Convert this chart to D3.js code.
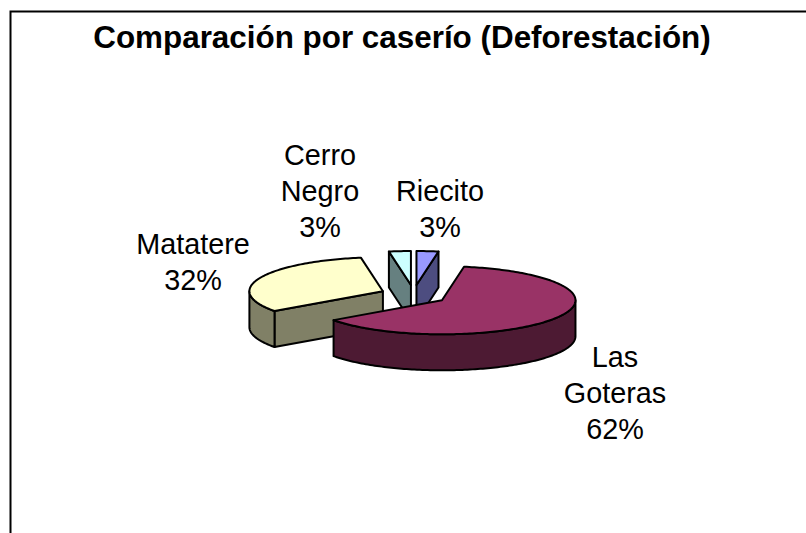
<!DOCTYPE html>
<html><head><meta charset="utf-8">
<script src="https://cdn.jsdelivr.net/npm/d3@7"></script>
<style>html,body{margin:0;padding:0;background:#fff}svg{display:block}text{font-family:"Liberation Sans",Arial,sans-serif;fill:#000}</style>
</head><body><svg id="c" width="806" height="533"></svg>
<script>
const titleText = "Comparación por caserío (Deforestación)";
const categories = ["Riecito", "Las Goteras", "Matatere", "Cerro Negro"];
const values = [2.64, 62.44, 32.28, 2.64];
const topColors = ["#9999ff", "#993366", "#ffffcc", "#ccffff"];
const wallColors = ["#4d4d80", "#4d1a33", "#808066", "#668080"];
const labelLines = [["Riecito"], ["Las", "Goteras"], ["Matatere"], ["Cerro", "Negro"]];
const labelPos = [[440, 201], [615, 367], [193, 254], [320, 165]];
const drawOrder = [3, 0, 2, 1];

const W = 806, H = 533, cx = 413.7, cy = 295, rx = 133.5, ry = 34, depth = 36, exX = 33.3, exY = 10;
const svg = d3.select("#c");
svg.append("path").attr("d", "M10.5,540V11.5H806").attr("fill", "none").attr("stroke", "#000").attr("stroke-width", 2);
svg.append("text").attr("x", 402).attr("y", 48).attr("text-anchor", "middle")
  .attr("font-size", 31.4).attr("font-weight", "bold").text(titleText);

const arcs = d3.pie().sort(null).value(d => d)(values);
const sx = d3.scaleLinear().domain([-1, 1]).range([-rx, rx]);
const sy = d3.scaleLinear().domain([-1, 1]).range([-ry, ry]);
const line = d3.line().curve(d3.curveLinear);
const pt = (o, a, dz = 0) => [o[0] + sx(Math.sin(a)), o[1] + sy(-Math.cos(a)) + dz];
const arcPts = (o, a, b, dz = 0) => {
  const n = Math.max(2, Math.ceil((b - a) / 0.02));
  return d3.range(n + 1).map(i => pt(o, a + (b - a) * i / n, dz));
};
drawOrder.forEach(i => {
  const d = arcs[i], a = d.startAngle, b = d.endAngle, m = (a + b) / 2;
  const o = [cx + exX * Math.sin(m), cy - exY * Math.cos(m)];
  const g = svg.append("g").attr("stroke", "#000").attr("stroke-width", 2).attr("stroke-linejoin", "round");
  const wall = p => g.append("path").attr("d", line(p) + "Z").attr("fill", wallColors[i]);
  if (Math.sin(a) < -1e-6) wall([o, pt(o, a), pt(o, a, depth), [o[0], o[1] + depth]]);
  if (Math.sin(b) > 1e-6) wall([o, pt(o, b), pt(o, b, depth), [o[0], o[1] + depth]]);
  const w0 = Math.max(a, Math.PI / 2), w1 = Math.min(b, 3 * Math.PI / 2);
  if (w1 > w0) wall([...arcPts(o, w0, w1), ...arcPts(o, w0, w1, depth).reverse()]);
  g.append("path").attr("d", line([o, ...arcPts(o, a, b)]) + "Z").attr("fill", topColors[i]);
});
labelLines.forEach((ls, i) => {
  const t = svg.append("text").attr("text-anchor", "middle").attr("font-size", 28.8);
  [...ls, d3.format(".0f")(values[i]) + "%"].forEach((s, k) => {
    t.append("tspan").attr("x", labelPos[i][0]).attr("y", labelPos[i][1] + k * 36).text(s);
  });
});
</script></body></html>
